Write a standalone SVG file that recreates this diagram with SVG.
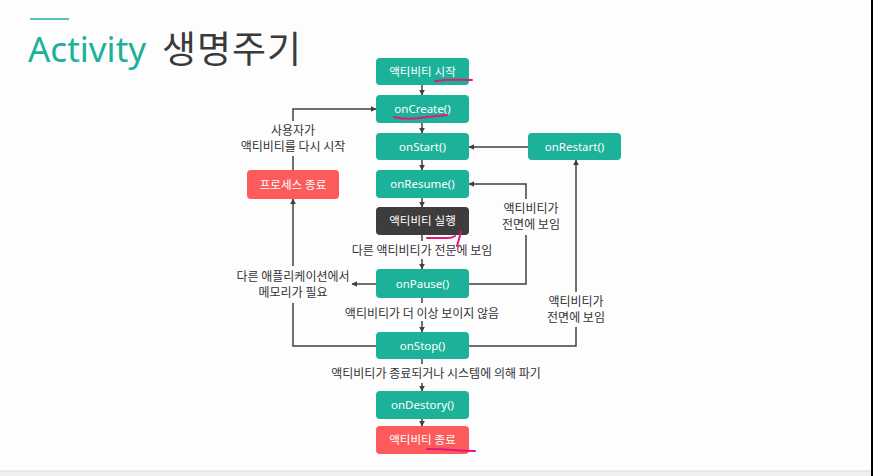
<svg xmlns="http://www.w3.org/2000/svg" width="873" height="476" viewBox="0 0 873 476">
<defs>
<style>
.box{fill:#1cb199}
.red{fill:#fd5b5b}
.dark{fill:#3e3c3d}
.bt{font-family:"Noto Sans","Noto Sans CJK KR",sans-serif;font-size:11.5px;fill:#ffffff;text-anchor:middle}
.lb{font-family:"Noto Sans CJK KR","Noto Sans",sans-serif;font-size:12px;fill:#333333;text-anchor:middle}
.ln{fill:none;stroke:#404040;stroke-width:1.5}
.pk{fill:none;stroke:#e8157d;stroke-width:2;stroke-linecap:round}
</style>
<marker id="ah" viewBox="0 0 10 10" refX="9" refY="5" markerWidth="6" markerHeight="6" orient="auto" markerUnits="userSpaceOnUse">
<path d="M0,0 L10,5 L0,10 z" fill="#404040"/>
</marker>
</defs>
<rect width="873" height="476" fill="#fdfdfd"/>
<rect x="0" y="471" width="871" height="5" fill="#efefef"/>
<line x1="0" y1="471" x2="871" y2="471" stroke="#dcdcdc" stroke-width="1"/>
<line x1="872" y1="0" x2="872" y2="476" stroke="#000" stroke-width="2"/>

<g id="title">
<line x1="30" y1="19" x2="69" y2="19" stroke="#1cb199" stroke-width="1.5"/>
<text x="28" y="62" font-family="Noto Sans,sans-serif" font-size="35" fill="#1cb199">Activity</text>
<text x="162" y="63" font-family="Noto Sans CJK KR,sans-serif" font-size="37" letter-spacing="1" fill="#3a3a3a">생명주기</text>
</g>

<g id="connectors">
<line class="ln" x1="422" y1="85" x2="422" y2="95" marker-end="url(#ah)"/>
<line class="ln" x1="422" y1="123" x2="422" y2="133" marker-end="url(#ah)"/>
<line class="ln" x1="422" y1="160" x2="422" y2="170" marker-end="url(#ah)"/>
<line class="ln" x1="422" y1="198" x2="422" y2="207" marker-end="url(#ah)"/>
<line class="ln" x1="422" y1="235" x2="422" y2="241"/>
<line class="ln" x1="422" y1="259" x2="422" y2="269" marker-end="url(#ah)"/>
<line class="ln" x1="422" y1="298" x2="422" y2="303"/>
<line class="ln" x1="422" y1="321" x2="422" y2="332" marker-end="url(#ah)"/>
<line class="ln" x1="422" y1="359" x2="422" y2="364"/>
<line class="ln" x1="422" y1="383" x2="422" y2="391" marker-end="url(#ah)"/>
<line class="ln" x1="422" y1="419" x2="422" y2="426" marker-end="url(#ah)"/>
<polyline class="ln" points="293,170 293,156"/>
<polyline class="ln" points="293,121 293,109 376,109" marker-end="url(#ah)"/>
<polyline class="ln" points="376,346 293,346 293,303"/>
<line class="ln" x1="293" y1="266" x2="293" y2="199" marker-end="url(#ah)"/>
<line class="ln" x1="376" y1="284" x2="352" y2="284" marker-end="url(#ah)"/>
<polyline class="ln" points="469,284 526,284 526,235"/>
<polyline class="ln" points="526,199 526,184 469,184" marker-end="url(#ah)"/>
<polyline class="ln" points="469,346 576,346 576,327"/>
<line class="ln" x1="576" y1="292" x2="576" y2="160" marker-end="url(#ah)"/>
<line class="ln" x1="528" y1="147" x2="469" y2="147" marker-end="url(#ah)"/>
</g>

<g id="labels">
<text class="lb" x="293" y="135">사용자가</text>
<text class="lb" x="293" y="151">액티비티를 다시 시작</text>
<text class="lb" x="422" y="255">다른 액티비티가 전문에 보임</text>
<text class="lb" x="293" y="281">다른 애플리케이션에서</text>
<text class="lb" x="293" y="297">메모리가 필요</text>
<text class="lb" x="531" y="213">액티비티가</text>
<text class="lb" x="531" y="229">전면에 보임</text>
<text class="lb" x="576" y="306">액티비티가</text>
<text class="lb" x="576" y="322">전면에 보임</text>
<text class="lb" x="422" y="318">액티비티가 더 이상 보이지 않음</text>
<text class="lb" x="436" y="378">액티비티가 종료되거나 시스템에 의해 파기</text>
</g>

<g id="n-start"><rect class="box" x="376" y="58" width="93" height="27" rx="4"/><text class="bt" x="422.5" y="75.5">액티비티 시작</text></g>
<g id="n-oncreate"><rect class="box" x="376" y="95" width="93" height="28" rx="4"/><text class="bt" x="422.5" y="113">onCreate()</text></g>
<g id="n-onstart"><rect class="box" x="376" y="133" width="93" height="27" rx="4"/><text class="bt" x="422.5" y="151">onStart()</text></g>
<g id="n-onrestart"><rect class="box" x="528" y="133" width="93" height="27" rx="4"/><text class="bt" x="574.5" y="151">onRestart()</text></g>
<g id="n-onresume"><rect class="box" x="376" y="170" width="93" height="28" rx="4"/><text class="bt" x="422.5" y="188">onResume()</text></g>
<g id="n-running"><rect class="dark" x="376" y="207" width="93" height="28" rx="4"/><text class="bt" x="422.5" y="225">액티비티 실행</text></g>
<g id="n-onpause"><rect class="box" x="376" y="269" width="93" height="29" rx="4"/><text class="bt" x="422.5" y="288">onPause()</text></g>
<g id="n-onstop"><rect class="box" x="376" y="332" width="93" height="27" rx="4"/><text class="bt" x="422.5" y="350">onStop()</text></g>
<g id="n-ondestory"><rect class="box" x="376" y="391" width="93" height="28" rx="4"/><text class="bt" x="422.5" y="409">onDestory()</text></g>
<g id="n-end"><rect class="red" x="376" y="426" width="93" height="28" rx="4"/><text class="bt" x="422.5" y="444">액티비티 종료</text></g>
<g id="n-process"><rect class="red" x="247" y="170" width="92" height="29" rx="4"/><text class="bt" x="293" y="189">프로세스 종료</text></g>

<g id="annotations">
<path class="pk" d="M435,81 Q450,79 472,80"/>
<path class="pk" d="M394,117 Q405,120 420,118 Q435,116 447,115"/>
<path class="pk" d="M427,238 L447,238 Q452,238 455,236 M461,232 L457,246"/>
<path class="pk" d="M427,449 Q440,449 452,450 Q465,451 475,451"/>
</g>
</svg>
